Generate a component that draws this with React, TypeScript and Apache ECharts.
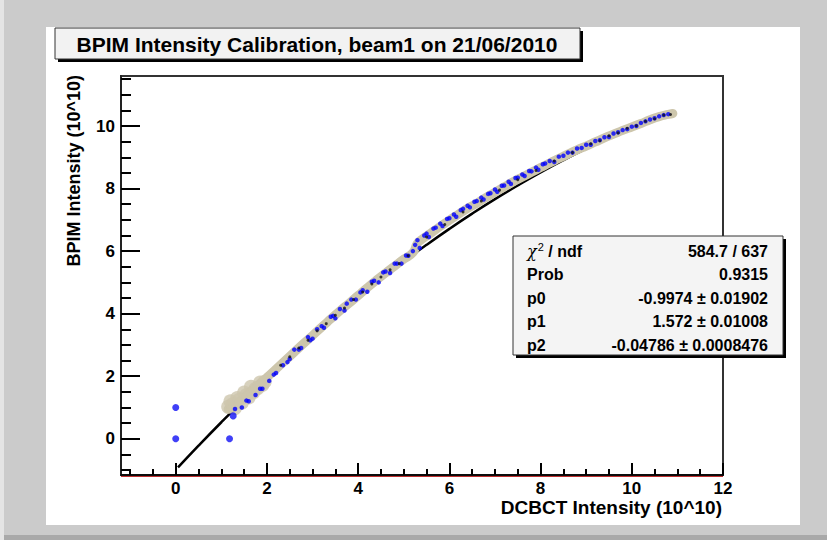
import React, { useEffect, useRef } from "react";
import * as echarts from "echarts";

// ---------- text ----------
const titleText = "BPIM Intensity Calibration, beam1 on 21/06/2010";
const xTitle = "DCBCT Intensity (10^10)";
const yTitle = "BPIM Intensity (10^10)";
const statNames = ["{chi|χ}{sup|2}{b| / ndf}", "Prob", "p0", "p1", "p2"];
const statValues = ["584.7 / 637", "0.9315", "-0.9974 ± 0.01902", "1.572 ± 0.01008", "-0.04786 ± 0.0008476"];

// ---------- axes ----------
const xMin = -1.2;
const xMax = 12;
const yMin = -1.16;
const yMax = 11.6;
const xMajorTicks = [0, 2, 4, 6, 8, 10, 12];
const xMinorTicks = [-1, -0.5, 0.5, 1, 1.5, 2.5, 3, 3.5, 4.5, 5, 5.5, 6.5, 7, 7.5, 8.5, 9, 9.5, 10.5, 11, 11.5];
const yMajorTicks = [0, 2, 4, 6, 8, 10];
const yMinorTicks = [-1, -0.5, 0.5, 1, 1.5, 2.5, 3, 3.5, 4.5, 5, 5.5, 6.5, 7, 7.5, 8.5, 9, 9.5, 10.5, 11, 11.5];

// ---------- data ----------
// fitted curve (pol2)
const fitX = [0.05, 0.5, 1, 1.5, 2, 2.5, 3, 3.5, 4, 4.5, 5, 5.5, 6, 6.5, 7, 7.5, 8, 8.5, 9, 9.5, 10, 10.5, 10.9];
const fitY = [-0.919, -0.223, 0.527, 1.253, 1.955, 2.633, 3.288, 3.918, 4.525, 5.107, 5.666, 6.201, 6.712, 7.199, 7.662, 8.1, 8.516, 8.907, 9.274, 9.617, 9.937, 10.232, 10.451];

// beige measurement band
const bandX = [1.15, 1.3, 1.5, 1.7, 1.9, 2.0, 2.2, 2.4, 2.6, 2.8, 3.0, 3.2, 3.4, 3.6, 3.8, 4.0, 4.2, 4.4, 4.6, 4.8, 5.0, 5.2, 5.3, 5.4, 5.6, 5.8, 6.0, 6.2, 6.4, 6.6, 6.8, 7.0, 7.2, 7.4, 7.6, 7.8, 8.0, 8.2, 8.4, 8.6, 8.8, 9.0, 9.2, 9.4, 9.6, 9.8, 10.0, 10.2, 10.4, 10.6, 10.8, 10.9];
const bandY = [0.95, 1.08, 1.33, 1.58, 1.83, 1.96, 2.23, 2.5, 2.77, 3.04, 3.3, 3.57, 3.83, 4.09, 4.33, 4.58, 4.83, 5.07, 5.3, 5.52, 5.74, 5.95, 6.25, 6.38, 6.58, 6.79, 6.99, 7.18, 7.37, 7.53, 7.71, 7.88, 8.05, 8.22, 8.37, 8.52, 8.67, 8.82, 8.96, 9.1, 9.24, 9.36, 9.49, 9.62, 9.74, 9.86, 9.97, 10.08, 10.2, 10.3, 10.37, 10.4];

// beige blob at low intensity
const blobX = [1.15, 1.2, 1.25, 1.3, 1.35, 1.4, 1.45, 1.5, 1.55, 1.6, 1.65, 1.7, 1.75, 1.8, 1.85, 1.9, 1.95];
const blobY = [1.02, 1.2, 1.1, 0.98, 1.3, 1.25, 1.15, 1.48, 1.4, 1.32, 1.66, 1.48, 1.6, 1.62, 1.8, 1.72, 1.82];

// blue measurements
const blueX = [1.45, 1.6, 1.75, 1.9, 2.05, 2.2, 2.35, 2.5, 2.6, 2.75, 2.9, 3.0, 3.1, 3.25, 3.4, 3.5, 3.6, 3.7, 3.85, 3.95, 4.1, 4.2, 4.35, 4.45, 4.6, 4.7, 4.85, 4.95, 5.1, 5.2, 5.3, 5.35, 5.45, 5.55, 5.7, 5.85, 6.0, 6.15, 6.3, 6.45, 6.6, 6.75, 6.9, 7.05, 7.2, 7.35, 7.5, 7.65, 7.8, 7.95, 8.1, 8.3, 8.5, 8.7, 8.9, 9.1, 9.3, 9.5, 9.7, 9.9, 10.1, 10.3, 10.5, 10.7];
const blueY = [1.0, 1.2, 1.4, 1.6, 1.85, 2.1, 2.35, 2.55, 2.85, 2.9, 3.25, 3.2, 3.5, 3.55, 3.9, 3.85, 4.15, 4.1, 4.45, 4.45, 4.75, 4.7, 5.05, 5.0, 5.35, 5.3, 5.6, 5.6, 5.85, 6.0, 6.35, 6.1, 6.5, 6.45, 6.75, 6.8, 7.05, 7.1, 7.35, 7.4, 7.6, 7.65, 7.85, 7.9, 8.1, 8.15, 8.35, 8.4, 8.55, 8.6, 8.8, 8.85, 9.05, 9.15, 9.3, 9.4, 9.55, 9.65, 9.8, 9.9, 10.0, 10.15, 10.25, 10.35];
const blue2X = [1.3, 1.55, 1.85, 2.15, 2.45, 2.7, 2.95, 3.2, 3.45, 3.75, 4.05, 4.3, 4.55, 4.8, 5.05, 5.25, 5.5, 5.65, 5.8, 5.95, 6.1, 6.25, 6.4, 6.55, 6.7, 6.85, 7.0, 7.15, 7.3, 7.45, 7.6, 7.75, 7.9, 8.05, 8.2, 8.4, 8.6, 8.8, 9.0, 9.2, 9.4, 9.6, 9.8, 10.0, 10.2, 10.4, 10.6, 10.8];
const blue2Y = [0.95, 1.22, 1.6, 2.05, 2.45, 2.85, 3.15, 3.6, 3.93, 4.32, 4.68, 5.02, 5.32, 5.6, 5.86, 6.2, 6.56, 6.72, 6.88, 7.03, 7.17, 7.31, 7.45, 7.58, 7.71, 7.83, 7.97, 8.09, 8.22, 8.34, 8.45, 8.56, 8.67, 8.78, 8.88, 9.02, 9.15, 9.28, 9.4, 9.52, 9.64, 9.76, 9.87, 9.98, 10.1, 10.21, 10.31, 10.38];

// black measurements
const blackX = [2.3, 2.5, 2.7, 2.9, 3.1, 3.3, 3.5, 3.7, 3.9, 4.1, 4.3, 4.5, 4.7, 4.9, 5.1, 5.5, 5.9, 6.3, 6.7, 7.1, 7.5, 7.9, 8.3, 8.7, 9.1, 9.3, 9.5, 9.7, 9.9, 10.1, 10.3, 10.5, 10.7, 10.85];
const blackY = [2.35, 2.62, 2.9, 3.15, 3.45, 3.68, 3.95, 4.18, 4.45, 4.69, 4.95, 5.17, 5.4, 5.6, 5.85, 6.45, 6.85, 7.25, 7.6, 7.95, 8.28, 8.58, 8.88, 9.15, 9.43, 9.53, 9.69, 9.78, 9.93, 10.01, 10.15, 10.23, 10.35, 10.37];

// isolated blue points
const outlierX = [0, 0, 1.18, 1.26];
const outlierY = [1, 0, 0, 0.73];

const zip = (xs: number[], ys: number[]) => xs.map((x, i) => [x, ys[i]]);

const FONT = "'Liberation Sans', Arial, Helvetica, sans-serif";

export default function App() {
  const ref = useRef<HTMLDivElement>(null);

  useEffect(() => {
    if (!ref.current) return;
    const chart = echarts.init(ref.current, undefined, { renderer: "svg" });

    const tickLabel = { color: "#000", fontFamily: FONT, fontWeight: "bold" as const, fontSize: 17 };

    const statTexts: any[] = [];
    statNames.forEach((n, i) => {
      const y = 251 + i * 23.5;
      statTexts.push({
        type: "text",
        x: 527,
        y,
        z: 102,
        style: {
          text: n,
          fill: "#000",
          font: `bold 16px ${FONT}`,
          align: "left",
          verticalAlign: "middle",
          rich: {
            chi: { fontFamily: "'DejaVu Serif', serif", fontSize: 16, fontStyle: "italic", fill: "#000", fontWeight: "normal" },
            sup: { fontFamily: FONT, fontSize: 11, fill: "#000", verticalAlign: "bottom", padding: [0, 0, 8, 1] },
            b: { fontFamily: FONT, fontSize: 16, fontWeight: "bold", fill: "#000" },
          },
        },
      });
      statTexts.push({
        type: "text",
        x: 768,
        y,
        z: 102,
        style: {
          text: statValues[i],
          fill: "#000",
          font: `bold 16px ${FONT}`,
          align: "right",
          verticalAlign: "middle",
        },
      });
    });

    const option: any = {
      animation: false,
      backgroundColor: "#cbcbcb",
      grid: {
        left: 121,
        right: 104,
        top: 76,
        bottom: 65,
        show: true,
        borderColor: "#333",
        borderWidth: 2,
        backgroundColor: "transparent",
      },
      xAxis: [
        {
          type: "value",
          min: xMin,
          max: xMax,
          splitNumber: 6,
          position: "bottom",
          axisLine: { show: true, onZero: false, lineStyle: { color: "#000", width: 1.5 } },
          axisTick: { show: true, inside: true, length: 12, customValues: xMajorTicks, lineStyle: { color: "#000", width: 2 } },
          axisLabel: { ...tickLabel, margin: 5, customValues: xMajorTicks },
          splitLine: { show: false },
        },
        {
          type: "value",
          min: xMin,
          max: xMax,
          splitNumber: 6,
          position: "bottom",
          axisLine: { show: false, onZero: false },
          axisTick: { show: true, inside: true, length: 6, customValues: xMinorTicks, lineStyle: { color: "#000", width: 2 } },
          axisLabel: { show: false },
          splitLine: { show: false },
        },
      ],
      yAxis: [
        {
          type: "value",
          min: yMin,
          max: yMax,
          splitNumber: 6,
          position: "left",
          axisLine: { show: true, onZero: false, lineStyle: { color: "#222", width: 2 } },
          axisTick: { show: true, inside: true, length: 19, customValues: yMajorTicks, lineStyle: { color: "#000", width: 2 } },
          axisLabel: { ...tickLabel, margin: 6, customValues: yMajorTicks },
          splitLine: { show: false },
        },
        {
          type: "value",
          min: yMin,
          max: yMax,
          splitNumber: 6,
          position: "left",
          axisLine: { show: false, onZero: false },
          axisTick: { show: true, inside: true, length: 10, customValues: yMinorTicks, lineStyle: { color: "#000", width: 2 } },
          axisLabel: { show: false },
          splitLine: { show: false },
        },
      ],
      series: [
        {
          name: "fit",
          type: "line",
          data: zip(fitX, fitY),
          smooth: true,
          showSymbol: false,
          silent: true,
          z: 2,
          lineStyle: { color: "#000", width: 2.5 },
        },
        {
          name: "band",
          type: "line",
          data: zip(bandX, bandY),
          smooth: true,
          showSymbol: false,
          silent: true,
          z: 3,
          lineStyle: { color: "#cdc6ac", width: 9, cap: "round", join: "round" },
        },
        {
          name: "blob",
          type: "scatter",
          data: zip(blobX, blobY),
          symbolSize: 14,
          silent: true,
          z: 3,
          itemStyle: { color: "#cdc6ac" },
        },
        {
          name: "blue",
          type: "scatter",
          data: zip(blueX, blueY),
          symbolSize: 4.5,
          silent: true,
          z: 4,
          itemStyle: { color: "#0000ff" },
        },
        {
          name: "blue2",
          type: "scatter",
          data: zip(blue2X, blue2Y),
          symbolSize: 4.5,
          silent: true,
          z: 4,
          itemStyle: { color: "#0000ff" },
        },
        {
          name: "black",
          type: "scatter",
          data: zip(blackX, blackY),
          symbolSize: 3,
          silent: true,
          z: 5,
          itemStyle: { color: "#111" },
        },
        {
          name: "outliers",
          type: "scatter",
          data: zip(outlierX, outlierY),
          symbolSize: 7,
          silent: true,
          z: 5,
          itemStyle: { color: "#1010f5" },
        },
      ],
      graphic: [
        { type: "rect", z: -100, shape: { x: 0, y: 0, width: 827, height: 540 }, style: { fill: "#cbcbcb" } },
        { type: "rect", z: -99, shape: { x: 0, y: 535, width: 827, height: 5 }, style: { fill: "#a9a9a9" } },
        { type: "rect", z: -99, shape: { x: 0, y: 0, width: 4, height: 540 }, style: { fill: "#e4e4e4" } },
        { type: "rect", z: -98, shape: { x: 46, y: 27, width: 754, height: 498 }, style: { fill: "#ffffff" } },
        { type: "line", z: 50, shape: { x1: 121, y1: 476.5, x2: 723, y2: 476.5 }, style: { stroke: "#c03030", lineWidth: 1 } },
        // title box
        { type: "rect", z: 100, shape: { x: 58, y: 31, width: 525, height: 31 }, style: { fill: "#000" } },
        { type: "rect", z: 101, shape: { x: 55, y: 28, width: 525, height: 31 }, style: { fill: "#f2f2f2", stroke: "#333", lineWidth: 1 } },
        {
          type: "text",
          z: 102,
          x: 317,
          y: 44,
          style: { text: titleText, fill: "#000", font: `bold 21px ${FONT}`, align: "center", verticalAlign: "middle" },
        },
        // stats box
        { type: "rect", z: 100, shape: { x: 516, y: 239, width: 270, height: 119 }, style: { fill: "#000" } },
        { type: "rect", z: 101, shape: { x: 513, y: 236, width: 270, height: 119 }, style: { fill: "#f4f4f4", stroke: "#333", lineWidth: 1 } },
        ...statTexts,
        // axis titles
        {
          type: "text",
          z: 60,
          x: 722,
          y: 507,
          style: { text: xTitle, fill: "#000", font: `bold 19px ${FONT}`, align: "right", verticalAlign: "middle" },
        },
        {
          type: "text",
          z: 60,
          x: 74,
          y: 75,
          rotation: Math.PI / 2,
          style: { text: yTitle, fill: "#000", font: `bold 18px ${FONT}`, align: "right", verticalAlign: "middle" },
        },
      ],
    };

    chart.setOption(option);
    return () => chart.dispose();
  }, []);

  return (
    <div
      ref={ref}
      style={{ position: "fixed", left: 0, top: 0, width: 827, height: 540 }}
    />
  );
}
